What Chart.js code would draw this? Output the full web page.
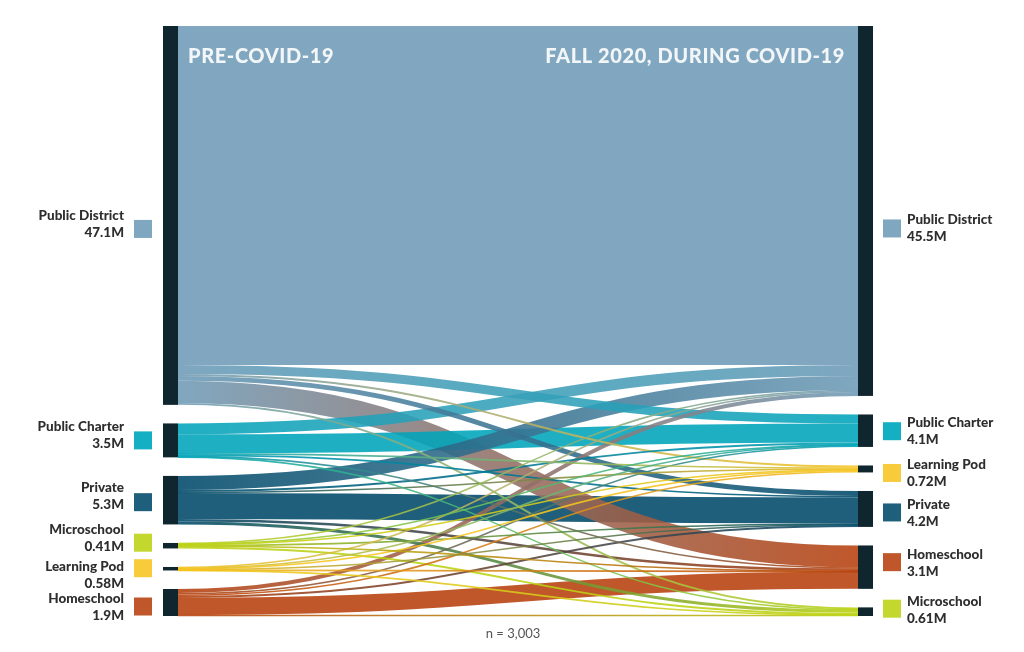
<!DOCTYPE html>
<html>
<head>
<meta charset="utf-8">
<title>School enrollment flows</title>
<script src="https://cdn.jsdelivr.net/npm/chart.js@4.4.1/dist/chart.umd.min.js"></script>
<style>
  html, body { margin: 0; padding: 0; background: #fff; }
  #wrap { width: 1024px; height: 652px; }
</style>
</head>
<body>
<div id="wrap"><canvas id="sankeyChart" width="1024" height="652"></canvas></div>
<script>
// Node order, top to bottom, in each column
const preCovidSchools = ['Public District', 'Public Charter', 'Private', 'Microschool', 'Learning Pod', 'Homeschool'];
const fall2020Schools = ['Public District', 'Public Charter', 'Learning Pod', 'Private', 'Homeschool', 'Microschool'];

// Estimated enrollment shown next to each node (millions of students)
const preCovidMillions = [47.1, 3.5, 5.3, 0.41, 0.58, 1.9];
const fall2020Millions = [45.5, 4.1, 0.72, 4.2, 3.1, 0.61];

// Respondents moving from each pre-covid type to each fall 2020 type
// (columns follow fall2020Schools)
const fromPublicDistrict = [2047, 54, 12, 30, 133, 12];
const fromPublicCharter  = [66, 115, 6, 9, 6, 3];
const fromPrivate        = [85, 12, 6, 157, 15, 18];
const fromMicroschool    = [6, 3, 3, 6, 3, 12];
const fromLearningPod    = [6, 3, 6, 3, 2, 1];
const fromHomeschool     = [24, 9, 9, 12, 103, 6];

const sampleSize = 3003;

// Styling
const schoolColors = {
    'Public District': '#80a7c0',
    'Public Charter': '#14afc2',
    'Private': '#1e5f7b',
    'Microschool': '#c3d72e',
    'Learning Pod': '#f7cb3a',
    'Homeschool': '#c0572a'
};
const NODE_COLOR = '#10262f';
const NODE_WIDTH = 15;
const NODE_GAP = 112;   // spacing between nodes, in respondent units
const LINK_ALPHA = 0.88;
const LABEL_FONT = '900 13.5px Lato, "Open Sans", sans-serif';

// small hand nudges for the label blocks (px, relative to node centre)
const leftSwatchNudge  = [13.5, 0, 2, -3, -0.5, 4];
const leftTextNudge    = [-13, -14, -15, -13.5, -2, -8];
const rightSwatchNudge = [17.5, 0.5, 4, 3.5, -5, -3];
const rightTextNudge   = [-8.5, -8.5, -8, -8, -8, -7];

const flows = [fromPublicDistrict, fromPublicCharter, fromPrivate, fromMicroschool, fromLearningPod, fromHomeschool];
const leftTotals = flows.map(row => row.reduce((a, b) => a + b, 0));
const rightTotals = fall2020Schools.map((_, j) => flows.reduce((a, row) => a + row[j], 0));
const columnMax = Math.max(
    leftTotals.reduce((a, b) => a + b, 0),
    rightTotals.reduce((a, b) => a + b, 0)
) + NODE_GAP * (preCovidSchools.length - 1);

function stackNodes(totals) {
    let acc = 0;
    return totals.map(t => {
        const node = { y0: acc, y1: acc + t };
        acc += t + NODE_GAP;
        return node;
    });
}

// translucent link colour that lands on the swatch colour over white
function linkColor(hex) {
    const n = parseInt(hex.slice(1), 16);
    const ch = [(n >> 16) & 255, (n >> 8) & 255, n & 255]
        .map(c => Math.max(0, Math.round((c - 255 * (1 - LINK_ALPHA)) / LINK_ALPHA)));
    return `rgba(${ch[0]}, ${ch[1]}, ${ch[2]}, ${LINK_ALPHA})`;
}

const sankeyPlugin = {
    id: 'sankey',
    afterDatasetsDraw(chart) {
        const { ctx, scales: { x, y } } = chart;
        const xLeft = x.getPixelForValue(0);
        const xRight = x.getPixelForValue(1);
        const leftNodes = stackNodes(leftTotals);
        const rightNodes = stackNodes(rightTotals);

        // build links, stacked by target on the source side and by source on the target side
        const srcAcc = leftNodes.map(n => n.y0);
        const tgtAcc = rightNodes.map(n => n.y0);
        const links = [];
        flows.forEach((row, i) => {
            row.forEach((v, j) => {
                if (v <= 0) return;
                links.push({ i, j, v, sy: srcAcc[i] + v / 2, ty: tgtAcc[j] + v / 2 });
                srcAcc[i] += v;
                tgtAcc[j] += v;
            });
        });

        const x0 = xLeft + NODE_WIDTH;
        const x1 = xRight - NODE_WIDTH;
        const xm = (x0 + x1) / 2;

        ctx.save();
        links.slice().sort((a, b) => b.v - a.v).forEach(link => {
            const ys = y.getPixelForValue(link.sy);
            const yt = y.getPixelForValue(link.ty);
            const w = Math.max(1.6, Math.abs(y.getPixelForValue(link.v) - y.getPixelForValue(0)));
            const grad = ctx.createLinearGradient(x0, 0, x1, 0);
            grad.addColorStop(0, linkColor(schoolColors[preCovidSchools[link.i]]));
            grad.addColorStop(1, linkColor(schoolColors[fall2020Schools[link.j]]));
            ctx.beginPath();
            ctx.moveTo(x0, ys);
            ctx.bezierCurveTo(xm, ys, xm, yt, x1, yt);
            ctx.lineWidth = w;
            ctx.strokeStyle = grad;
            ctx.lineCap = 'butt';
            ctx.stroke();
        });

        // node bars
        ctx.fillStyle = NODE_COLOR;
        leftNodes.forEach(n => {
            const top = y.getPixelForValue(n.y0);
            const bottom = y.getPixelForValue(n.y1);
            ctx.fillRect(xLeft, top, NODE_WIDTH, Math.max(3, bottom - top));
        });
        rightNodes.forEach(n => {
            const top = y.getPixelForValue(n.y0);
            const bottom = y.getPixelForValue(n.y1);
            ctx.fillRect(xRight - NODE_WIDTH, top, NODE_WIDTH, Math.max(3, bottom - top));
        });

        // column headings
        ctx.fillStyle = '#f2f6f8';
        ctx.font = '900 20px Lato, "Open Sans", sans-serif';
        ctx.letterSpacing = '0.6px';
        ctx.textBaseline = 'alphabetic';
        ctx.textAlign = 'left';
        ctx.fillText('PRE-COVID-19', xLeft + 25, 63);
        ctx.textAlign = 'right';
        ctx.fillText('FALL 2020, DURING COVID-19', xRight - 28, 63);
        ctx.letterSpacing = '0px';

        // node labels
        ctx.font = LABEL_FONT;
        ctx.textBaseline = 'middle';
        leftNodes.forEach((n, i) => {
            const mid = (y.getPixelForValue(n.y0) + y.getPixelForValue(n.y1)) / 2;
            const sy = mid + leftSwatchNudge[i];
            ctx.fillStyle = schoolColors[preCovidSchools[i]];
            ctx.fillRect(xLeft - 29, sy - 9, 18, 18);
            ctx.fillStyle = '#2e2e2e';
            ctx.textAlign = 'right';
            ctx.fillText(preCovidSchools[i], xLeft - 39, sy + leftTextNudge[i]);
            ctx.fillText(preCovidMillions[i] + 'M', xLeft - 39, sy + leftTextNudge[i] + 17);
        });
        rightNodes.forEach((n, j) => {
            const mid = (y.getPixelForValue(n.y0) + y.getPixelForValue(n.y1)) / 2;
            const sy = mid + rightSwatchNudge[j];
            ctx.fillStyle = schoolColors[fall2020Schools[j]];
            ctx.fillRect(xRight + 10, sy - 9, 18, 18);
            ctx.fillStyle = '#2e2e2e';
            ctx.textAlign = 'left';
            ctx.fillText(fall2020Schools[j], xRight + 34, sy + rightTextNudge[j]);
            ctx.fillText(fall2020Millions[j] + 'M', xRight + 34, sy + rightTextNudge[j] + 17);
        });

        // sample size note
        ctx.fillStyle = '#555';
        ctx.font = '13px Lato, "Open Sans", sans-serif';
        ctx.textAlign = 'center';
        ctx.fillText('n = ' + sampleSize.toLocaleString('en-US'), 513, 634);
        ctx.restore();
    }
};

const chart = new Chart(document.getElementById('sankeyChart').getContext('2d'), {
    type: 'scatter',
    data: { datasets: [{ data: [], pointRadius: 0 }] },
    options: {
        responsive: false,
        animation: false,
        layout: { padding: { left: 163, right: 151, top: 26, bottom: 36 } },
        scales: {
            x: { type: 'linear', min: 0, max: 1, display: false },
            y: { type: 'linear', min: 0, max: columnMax, reverse: true, display: false }
        },
        plugins: {
            legend: { display: false },
            tooltip: { enabled: false }
        }
    },
    plugins: [sankeyPlugin]
});
</script>
</body>
</html>
